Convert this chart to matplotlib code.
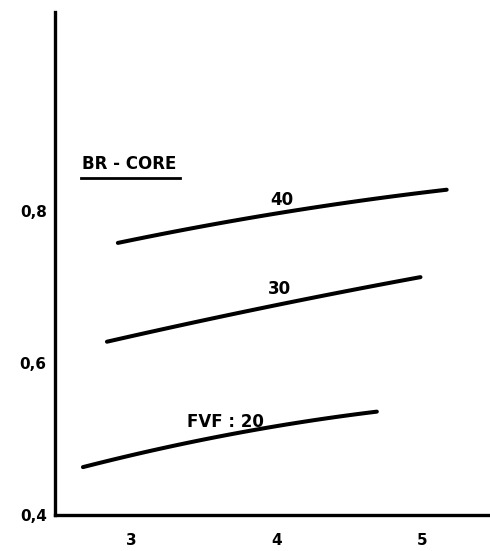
import matplotlib
matplotlib.use("Agg")
import matplotlib.pyplot as plt
from matplotlib.lines import Line2D
import numpy as np

# FVF curves: x positions and values
fvf_levels = [20, 30, 40]
x_20 = [2.67, 3.68, 4.69]
y_20 = [0.463, 0.506, 0.536]
x_30 = [2.835, 4.02, 4.99]
y_30 = [0.628, 0.677, 0.713]
x_40 = [2.91, 4.04, 5.17]
y_40 = [0.758, 0.798, 0.828]

x_ticks = [3, 4, 5]
x_tick_labels = ["3", "4", "5"]
y_ticks = [0.4, 0.6, 0.8]
y_tick_labels = ["0,4", "0,6", "0,8"]

fig = plt.figure(figsize=(4.9, 5.51), dpi=100)
ax = fig.add_axes([55 / 490, 36 / 551, 433 / 490, 503 / 551])

# each curve drawn as a smooth quadratic through its three points
for xs, ys in [(x_20, y_20), (x_30, y_30), (x_40, y_40)]:
    coef = np.polyfit(xs, ys, 2)
    xx = np.linspace(xs[0], xs[-1], 60)
    ax.plot(xx, np.polyval(coef, xx), color="black", lw=2.9, solid_capstyle="round")

txt = dict(color="black", fontweight="heavy", fontsize=12, ha="center", va="center")
ax.text(3.65, 0.523, f"FVF : {fvf_levels[0]}", **txt)
ax.text(4.02, 0.697, f"{fvf_levels[1]}", **txt)
ax.text(4.04, 0.815, f"{fvf_levels[2]}", **txt)

# underlined panel title
ax.text(2.99, 0.862, "BR - CORE", **txt)
ax.add_line(Line2D([2.66, 3.34], [0.844, 0.844], color="black", lw=2.0))

ax.set_xlim(2.478, 5.454)
ax.set_ylim(0.4, 0.4 + 503 / 760)
ax.set_xticks(x_ticks)
ax.set_xticklabels(x_tick_labels, fontweight="heavy", fontsize=11)
ax.set_yticks(y_ticks)
ax.set_yticklabels(y_tick_labels, fontweight="heavy", fontsize=11)
ax.tick_params(axis="both", length=0)
ax.tick_params(axis="x", pad=13)
ax.tick_params(axis="y", pad=6)

for side in ("top", "right"):
    ax.spines[side].set_visible(False)
for side in ("left", "bottom"):
    ax.spines[side].set_linewidth(2.4)

fig.savefig("out.png", dpi=100)
